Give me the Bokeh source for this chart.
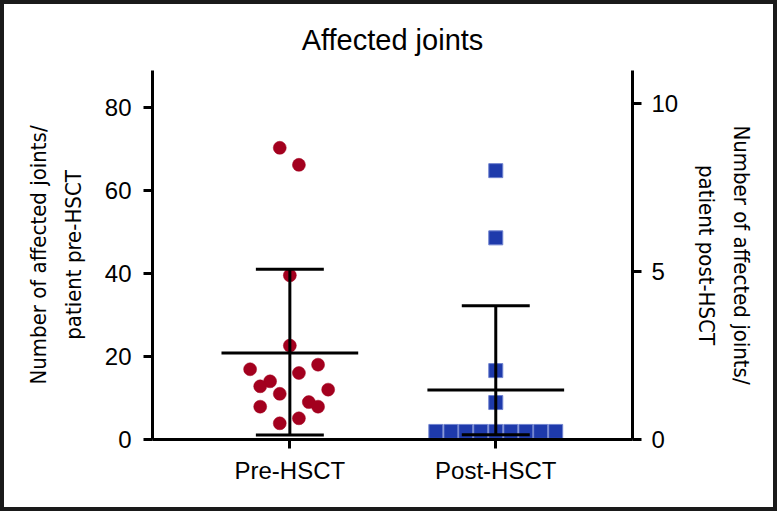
from bokeh.plotting import figure
from bokeh.models import Range1d, LinearAxis, FixedTicker
from bokeh.embed import file_html
from bokeh.resources import INLINE

# ---- data ----
categories = ["Pre-HSCT", "Post-HSCT"]
cat_pos = [0, 1]

pre_offset = [-0.049, 0.044, 0.0, 0.0, -0.193, 0.044, 0.137, -0.096,
              -0.144, 0.186, -0.049, -0.144, 0.092, 0.137, 0.044, -0.049]
pre_values = [70.2, 66.1, 39.5, 22.6, 16.9, 16.0, 18.0, 14.0,
              12.8, 12.0, 11.0, 7.9, 9.0, 7.9, 5.1, 3.9]

post_offset = [0.0, 0.0, 0.0, 0.0, -0.291, -0.218, -0.146, -0.073,
               0.0, 0.073, 0.146, 0.218, 0.291]
post_values = [8.0, 6.0, 2.05, 1.1, 0.24, 0.24, 0.24, 0.24,
               0.24, 0.24, 0.24, 0.24, 0.24]

pre_stats = {"mean": 20.8, "upper": 41.0, "lower": 1.1}
post_stats = {"mean": 1.47, "upper": 3.98, "lower": 0.14}

left_ticks = [0, 20, 40, 60, 80]
right_ticks = [0, 5, 10]

# ---- styles ----
RED = "#a3001e"
BLUE = "#1e3aab"
FONT = "Liberation Sans"
NARROW = "DejaVu Sans Condensed"
MEAN_HALF = 0.332
CAP_HALF = 0.165

W, H = 777, 511

p = figure(width=W, height=H, output_backend="svg", toolbar_location=None,
           x_range=Range1d(-0.667, 1.664), y_range=Range1d(0, 88.8),
           min_border_left=152, min_border_right=145, min_border_top=70,
           min_border_bottom=72, title="Affected joints")
p.extra_y_ranges = {"post": Range1d(0, 10.98)}

p.title.align = "center"
p.title.text_font = FONT
p.title.text_font_size = "29px"
p.title.text_font_style = "normal"
p.title.text_color = "black"
p.title.standoff = 29

p.grid.visible = False
p.outline_line_color = None
# transparent canvas so that the page frame drawn with CSS shows through
p.background_fill_alpha = 0
p.border_fill_alpha = 0
p.styles = {"box-shadow": "inset 0 0 0 4px #1a1a1a", "background": "white"}

def style_axis(ax, label_size):
    ax.axis_line_width = 3
    ax.axis_line_color = "black"
    ax.major_tick_line_width = 3
    ax.major_tick_line_color = "black"
    ax.major_tick_out = 9
    ax.major_tick_in = 0
    ax.minor_tick_line_color = None
    ax.major_label_text_font = FONT
    ax.major_label_text_font_size = label_size
    ax.major_label_text_color = "black"
    ax.major_label_standoff = 12

# left axis
yl = p.yaxis[0]
style_axis(yl, "24px")
yl.ticker = FixedTicker(ticks=left_ticks)
yl.axis_label = "Number of affected joints/\npatient pre-HSCT"
yl.axis_label_text_font = NARROW
yl.axis_label_text_font_size = "22px"
yl.axis_label_text_font_style = "normal"
yl.axis_label_text_color = "black"
yl.axis_label_standoff = 16
yl.axis_label_text_line_height = 1.4

# right axis
yr = LinearAxis(y_range_name="post", ticker=FixedTicker(ticks=right_ticks))
style_axis(yr, "24px")
yr.major_label_standoff = 10
yr.axis_label = "Number of affected joints/\npatient post-HSCT"
yr.axis_label_text_font = NARROW
yr.axis_label_text_font_size = "22px"
yr.axis_label_text_font_style = "normal"
yr.axis_label_text_color = "black"
yr.axis_label_standoff = 13
yr.axis_label_text_line_height = 1.4
p.add_layout(yr, "right")

# bottom axis
xb = p.xaxis[0]
style_axis(xb, "24px")
xb.ticker = FixedTicker(ticks=cat_pos)
xb.major_label_overrides = {cat_pos[i]: categories[i] for i in range(len(categories))}
xb.major_label_standoff = 8

# points
p.scatter([cat_pos[0] + o for o in pre_offset], pre_values, marker="circle",
          size=13, fill_color=RED, line_color=RED, line_width=0.5)
p.scatter([cat_pos[1] + o for o in post_offset], post_values, marker="square",
          size=14, fill_color=BLUE, line_color="#6f82cf", line_width=1,
          y_range_name="post")

# error bars
def error_bar(xc, st, rng):
    kw = dict(line_color="black", line_width=3, line_cap="butt")
    if rng:
        kw["y_range_name"] = rng
    p.segment([xc], [st["lower"]], [xc], [st["upper"]], **kw)
    p.segment([xc - MEAN_HALF], [st["mean"]], [xc + MEAN_HALF], [st["mean"]], **kw)
    p.segment([xc - CAP_HALF], [st["upper"]], [xc + CAP_HALF], [st["upper"]], **kw)
    p.segment([xc - CAP_HALF], [st["lower"]], [xc + CAP_HALF], [st["lower"]], **kw)

error_bar(cat_pos[0], pre_stats, None)
error_bar(cat_pos[1], post_stats, "post")

open("out.html", "w").write(file_html(p, INLINE))
